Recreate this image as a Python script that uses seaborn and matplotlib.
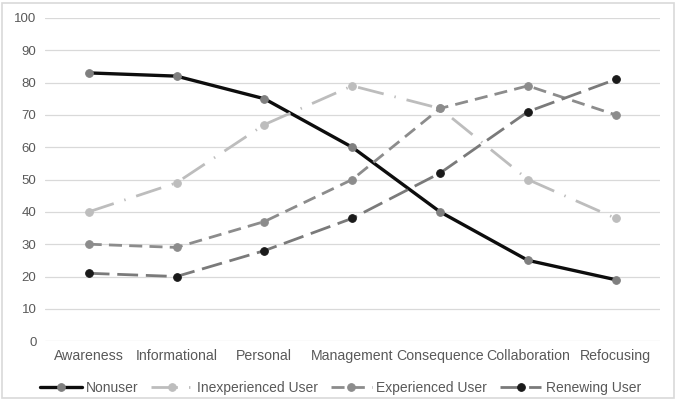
import matplotlib
matplotlib.use("Agg")
import matplotlib.pyplot as plt
import pandas as pd
import seaborn as sns

stages = ["Awareness", "Informational", "Personal", "Management",
          "Consequence", "Collaboration", "Refocusing"]
nonuser = [83, 82, 75, 60, 40, 25, 19]
inexperienced = [40, 49, 67, 79, 72, 50, 38]
experienced = [30, 29, 37, 50, 72, 79, 70]
renewing = [21, 20, 28, 38, 52, 71, 81]

series = [
    ("Nonuser", nonuser, "#0d0d0d", "#7f7f7f", (None, None)),
    ("Inexperienced User", inexperienced, "#bdbdbd", "#bdbdbd", (9.5, 4, 0.5, 4)),
    ("Experienced User", experienced, "#8c8c8c", "#8c8c8c", (4.7, 2.6)),
    ("Renewing User", renewing, "#7a7a7a", "#1a1a1a", (7.5, 2.8)),
]

sns.set_style("white")
plt.rcParams["font.family"] = ["Liberation Sans", "DejaVu Sans"]

fig = plt.figure(figsize=(6.78, 3.99), dpi=100)
ax = fig.add_axes([0.066, 0.145, 0.907, 0.81])

for name, vals, lc, mc, dash in series:
    df = pd.DataFrame({"stage": stages, "value": vals})
    sns.lineplot(data=df, x="stage", y="value", ax=ax, sort=False,
                 color=lc, lw=2.4 if name == "Nonuser" else 2.0,
                 marker="o", markersize=5.5, markerfacecolor=mc,
                 markeredgecolor=mc, label=name)
    line = ax.get_lines()[-1]
    if dash[0] is not None:
        line.set_dashes(dash)

ax.set_ylim(0, 100)
ax.set_yticks(range(0, 101, 10))
ax.set_xlim(-0.5, len(stages) - 0.5)
ax.set_xlabel("")
ax.set_ylabel("")
ax.grid(True, axis="y", color="#d9d9d9", lw=0.9)
ax.set_axisbelow(True)
for s in ax.spines.values():
    s.set_visible(False)
ax.tick_params(axis="y", length=0, labelsize=9.5, colors="#595959", pad=6)
ax.tick_params(axis="x", length=0, labelsize=10.2, colors="#595959", pad=6)

leg = ax.legend(loc="upper center", bbox_to_anchor=(0.481, -0.085), ncol=4,
                frameon=False, fontsize=10, labelcolor="#595959",
                handlelength=3.0, handletextpad=0.3, columnspacing=0.9)

fig.patches.append(plt.Rectangle((0.003, 0.003), 0.991, 0.99, transform=fig.transFigure,
                                 fill=False, edgecolor="#d9d9d9", lw=1.2))

fig.savefig("out.png", dpi=100)
